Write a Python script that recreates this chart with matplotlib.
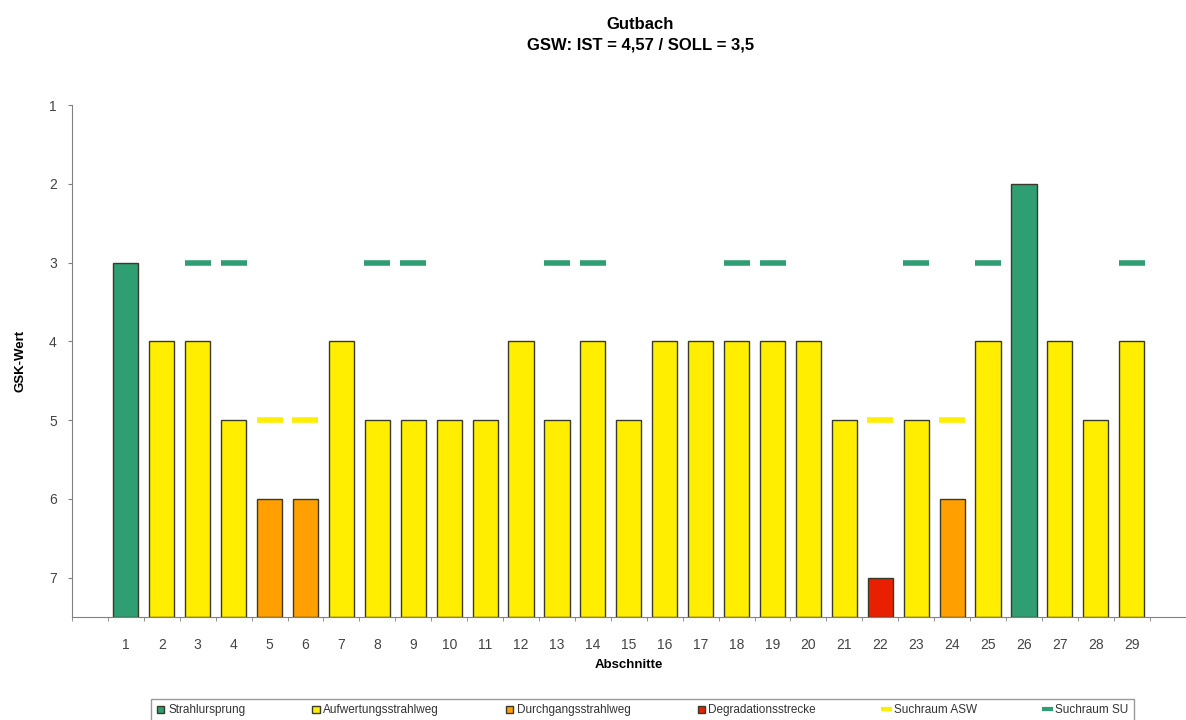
import matplotlib
matplotlib.use('Agg')
import matplotlib.pyplot as plt
from matplotlib.lines import Line2D
from matplotlib.patches import Patch
import numpy as np

# Daten
abschnitte = list(range(1, 30))
gsk_wert = [3, 4, 4, 5, 6, 6, 4, 5, 5, 5, 5, 4, 5, 4, 5, 4, 4, 4, 4, 4, 5, 7, 5, 6, 4, 2, 4, 5, 4]
kategorie = ['S', 'A', 'A', 'A', 'D', 'D', 'A', 'A', 'A', 'A', 'A', 'A', 'A', 'A', 'A',
             'A', 'A', 'A', 'A', 'A', 'A', 'G', 'A', 'D', 'A', 'S', 'A', 'A', 'A']
suchraum_asw_x = [5, 6, 22, 24]
suchraum_asw_y = [5, 5, 5, 5]
suchraum_su_x = [3, 4, 8, 9, 13, 14, 18, 19, 23, 25, 29]
suchraum_su_y = [3, 3, 3, 3, 3, 3, 3, 3, 3, 3, 3]

farben = {'S': '#2f9e72', 'A': '#ffee00', 'D': '#ffa000', 'G': '#e82000'}
namen = {'S': 'Strahlursprung', 'A': 'Aufwertungsstrahlweg',
         'D': 'Durchgangsstrahlweg', 'G': 'Degradationsstrecke'}

plt.rcParams['font.family'] = ['Liberation Sans', 'DejaVu Sans']

fig = plt.figure(figsize=(11.86, 7.2), dpi=100)
ax = fig.add_axes([0.0607, 0.143, 0.939, 0.711])

boden = 7.5
hoehen = [boden - v for v in gsk_wert]
ax.bar(abschnitte, [-h for h in hoehen], bottom=boden, width=0.7,
       color=[farben[k] for k in kategorie], edgecolor='#3a3a2a', linewidth=1.0)

# Suchraum-Striche
ax.plot(suchraum_asw_x, suchraum_asw_y, linestyle='none', marker='_',
        markersize=19, markeredgewidth=4, color='#ffee00')
ax.plot(suchraum_su_x, suchraum_su_y, linestyle='none', marker='_',
        markersize=19, markeredgewidth=4, color='#2f9e72')

ax.set_ylim(7.5, 1)
ax.set_xlim(-0.5, 30.5)
ax.set_yticks([1, 2, 3, 4, 5, 6, 7])
ax.set_xticks(abschnitte)
ax.set_xticks(np.arange(-0.5, 31, 1), minor=True)
ax.tick_params(axis='x', which='major', length=0, pad=15, labelsize=10, colors='#444444')
ax.tick_params(axis='x', which='minor', length=3, direction='out', color='#808080')
ax.tick_params(axis='y', length=3, direction='out', color='#808080', labelsize=10,
               labelcolor='#444444', pad=8)

for s in ['top', 'right']:
    ax.spines[s].set_visible(False)
for s in ['left', 'bottom']:
    ax.spines[s].set_color('#808080')

ax.set_ylabel('GSK-Wert', fontsize=9.5, fontweight='bold', labelpad=16)
ax.set_xlabel('Abschnitte', fontsize=9.5, fontweight='bold', labelpad=5)

fig.suptitle('Gutbach\nGSW: IST = 4,57 / SOLL = 3,5', x=0.54, y=0.977,
             fontsize=12, fontweight='bold', linespacing=1.5)

# Legende
handles = [Patch(facecolor=farben[k], edgecolor='#3a3a2a', label=namen[k]) for k in ['S', 'A', 'D', 'G']]
handles.append(Line2D([], [], color='#ffee00', linewidth=3, label='Suchraum ASW'))
handles.append(Line2D([], [], color='#2f9e72', linewidth=3, label='Suchraum SU'))
leg = fig.legend(handles=handles, loc='upper center', bbox_to_anchor=(0.542, 0.038),
                 ncol=6, fontsize=8.5, frameon=True, fancybox=False,
                 handlelength=0.6, handleheight=0.6, handletextpad=0.3,
                 columnspacing=5.7, borderpad=0.5, labelcolor='#333333')
leg.get_frame().set_edgecolor('#808080')
leg.get_frame().set_linewidth(1.0)

fig.savefig('out.png', dpi=100)
